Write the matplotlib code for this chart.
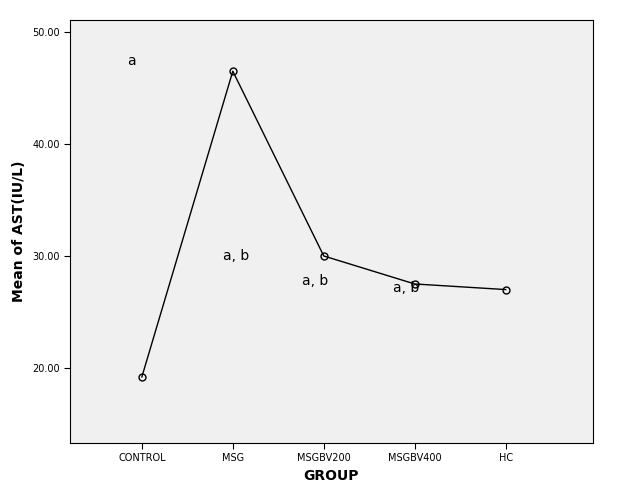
import matplotlib
matplotlib.use("Agg")
import matplotlib.pyplot as plt

groups = ["CONTROL", "MSG", "MSGBV200", "MSGBV400", "HC"]
ast_means = [19.2, 46.5, 30.0, 27.5, 27.0]
label_texts = ["a", "a, b", "a, b", "a, b"]
label_x = [-0.12, 1.04, 1.91, 2.9]
label_y = [47.4, 30.0, 27.8, 27.1]

fig = plt.figure(figsize=(6.25, 4.96), dpi=100)
ax = fig.add_axes([70/625, 1-443/496, (593-70)/625, (443-20)/496])
ax.set_facecolor("#f0f0f0")
x = list(range(len(groups)))
ax.plot(x, ast_means, color="black", lw=1, marker="o", markersize=5,
        markerfacecolor="none", markeredgecolor="black")
for t, lx, ly in zip(label_texts, label_x, label_y):
    ax.text(lx, ly, t, fontsize=10, ha="center", va="center")
ax.set_xlim(-0.79, 4.96)
ax.set_ylim(13.3, 51.07)
ax.set_xticks(x)
ax.set_xticklabels(groups, fontsize=7)
ax.set_yticks([20, 30, 40, 50])
ax.set_yticklabels(["20.00", "30.00", "40.00", "50.00"], fontsize=7)
ax.set_xlabel("GROUP", fontsize=10, fontweight="bold")
ax.set_ylabel("Mean of AST(IU/L)", fontsize=10, fontweight="bold")
for s in ax.spines.values():
    s.set_color("black"); s.set_linewidth(0.8)
ax.tick_params(length=4, width=0.8)
fig.savefig("out.png", dpi=100)
